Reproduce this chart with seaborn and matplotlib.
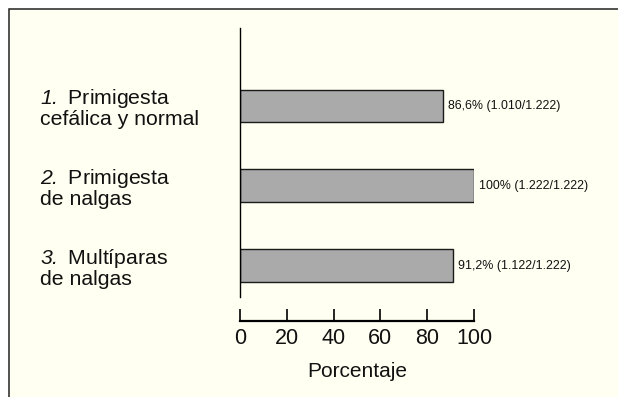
import matplotlib
matplotlib.use("Agg")
from matplotlib import pyplot as plt
from matplotlib.patches import Rectangle
import seaborn as sns
import pandas as pd

grupos = ['$\\mathsf{1.}$ Primigesta\ncefálica y normal',
          '$\\mathsf{2.}$ Primigesta\nde nalgas',
          '$\\mathsf{3.}$ Multíparas\nde nalgas']
porcentaje = [86.6, 100, 91.2]
etiquetas = ['86,6% (1.010/1.222)', '100% (1.222/1.222)', '91,2% (1.122/1.222)']
xticks = [0, 20, 40, 60, 80, 100]

df = pd.DataFrame({'grupo': grupos, 'porcentaje': porcentaje})

sns.set_style('white')
plt.rcParams['font.family'] = ['Liberation Sans', 'DejaVu Sans']
plt.rcParams['text.color'] = '#111111'
plt.rcParams['mathtext.fontset'] = 'custom'
plt.rcParams['mathtext.rm'] = 'Liberation Sans'
# numeros en cursiva via \mathsf
plt.rcParams['mathtext.sf'] = 'Liberation Sans:italic'

fig = plt.figure(figsize=(6.18, 3.97), dpi=100, facecolor='white')
# recuadro de fondo crema
fondo = Rectangle((9 / 618, -0.05), 1.1, 1 - 9 / 397 + 0.05, transform=fig.transFigure,
                  facecolor='#fffff2', edgecolor='#222222', linewidth=1.1, zorder=-1)
fig.patches.append(fondo)

ax = fig.add_axes([240 / 618, 1 - 297 / 397, 234 / 618, 269 / 397])
ax.patch.set_visible(False)

sns.barplot(data=df, x='porcentaje', y='grupo', orient='h', color='#aaaaaa',
            edgecolor='#1a1a1a', linewidth=1.0, width=0.41, saturation=1, ax=ax)

for i, (v, t) in enumerate(zip(porcentaje, etiquetas)):
    ax.annotate(t, (v, i), xytext=(3.5, 0), textcoords='offset points',
                va='center', ha='left', fontsize=8.9, color='#111111')

ax.set_xlim(0, 100)
ax.set_ylim(2.39, -0.975)
ax.set_xticks(xticks, labels=[str(x) for x in xticks])
ax.set_yticks(range(len(grupos)))
ax.set_yticklabels(grupos, ha='left', linespacing=1.0)
ax.tick_params(axis='y', length=0, pad=144, labelsize=15.3, labelcolor='#111111')
ax.tick_params(axis='x', bottom=True, direction='in', length=8.5, width=1.2, pad=5,
               color='black', labelsize=15.5, labelcolor='#111111')

for s in ['top', 'right']:
    ax.spines[s].set_visible(False)
ax.spines['left'].set_color('black')
ax.spines['left'].set_linewidth(1.0)
ax.spines['bottom'].set_position(('outward', 17.5))
ax.spines['bottom'].set_color('black')
ax.spines['bottom'].set_linewidth(1.6)

ax.set_xlabel('Porcentaje', fontsize=15, labelpad=9, color='#111111')
ax.set_ylabel('')

plt.savefig('out.png', dpi=100, facecolor='white')
